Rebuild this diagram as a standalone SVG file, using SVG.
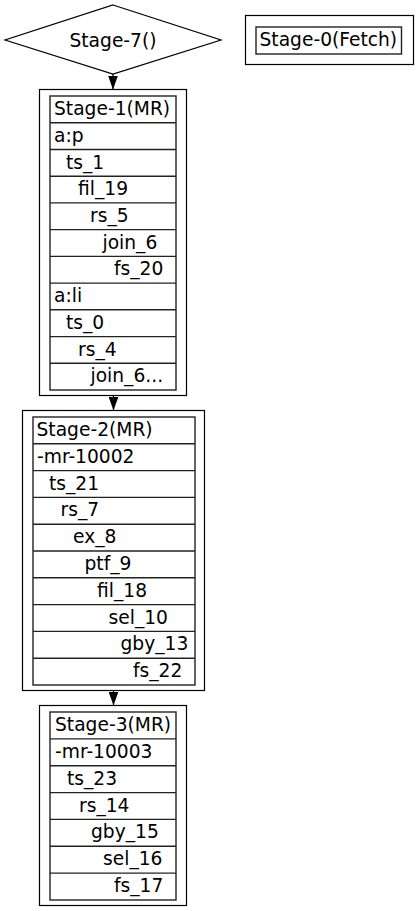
<svg xmlns="http://www.w3.org/2000/svg" width="419" height="911" viewBox="0 0 419 911">
<style>
text{font-family:"DejaVu Sans","Liberation Sans",sans-serif;font-size:18.67px;fill:#000}
.outer{fill:none;stroke:#000;stroke-width:1.2}
.inner{fill:none;stroke:#222;stroke-width:1.4}
.cell{stroke:#222;stroke-width:1.4}
.edge{stroke:#000;stroke-width:1.2;fill:none}
.mid{text-anchor:middle}
</style>
<defs>
<marker id="ah" viewBox="0 0 14 10" refX="14" refY="5" markerWidth="14" markerHeight="10" markerUnits="userSpaceOnUse" orient="auto">
<path d="M0,0 L14,5 L0,10 z" fill="#000"/>
</marker>
</defs>
<rect width="419" height="911" fill="#fff"/>
<g id="stage7">
<polygon points="113,5 221,40 113,74 5,40" fill="#fff" stroke="#000" stroke-width="1.2"/>
<text class="mid" x="113" y="46.5">Stage-7()</text>
</g>
<g id="stage0">
<rect class="outer" x="245.5" y="15.5" width="168" height="49"/>
<rect class="inner" x="256" y="27" width="145.5" height="27"/>
<text x="259.5" y="46">Stage-0(Fetch)</text>
</g>
<g id="stage1">
<rect class="outer" x="39.5" y="89.5" width="147" height="306"/>
<rect class="inner" x="50" y="96" width="126" height="294"/>
<g class="cell">
<line x1="50" x2="176" y1="122.7" y2="122.7"/>
<line x1="50" x2="176" y1="149.5" y2="149.5"/>
<line x1="50" x2="176" y1="176.2" y2="176.2"/>
<line x1="50" x2="176" y1="202.9" y2="202.9"/>
<line x1="50" x2="176" y1="229.6" y2="229.6"/>
<line x1="50" x2="176" y1="256.4" y2="256.4"/>
<line x1="50" x2="176" y1="283.1" y2="283.1"/>
<line x1="50" x2="176" y1="309.8" y2="309.8"/>
<line x1="50" x2="176" y1="336.6" y2="336.6"/>
<line x1="50" x2="176" y1="363.3" y2="363.3"/>
</g>
<text x="54" y="115">Stage-1(MR)</text>
<text x="54" y="141.7">a:p</text>
<text x="66" y="168.5">ts_1</text>
<text x="78" y="195.2">fil_19</text>
<text x="90" y="221.9">rs_5</text>
<text x="102.5" y="248.6">join_6</text>
<text x="114" y="275.4">fs_20</text>
<text x="54" y="302.1">a:li</text>
<text x="66" y="328.8">ts_0</text>
<text x="78" y="355.6">rs_4</text>
<text x="90.5" y="382.3">join_6...</text>
</g>
<g id="stage2">
<rect class="outer" x="22.5" y="410.5" width="182" height="280"/>
<rect class="inner" x="33" y="417" width="162" height="268"/>
<g class="cell">
<line x1="33" x2="195" y1="443.8" y2="443.8"/>
<line x1="33" x2="195" y1="470.6" y2="470.6"/>
<line x1="33" x2="195" y1="497.4" y2="497.4"/>
<line x1="33" x2="195" y1="524.2" y2="524.2"/>
<line x1="33" x2="195" y1="551" y2="551"/>
<line x1="33" x2="195" y1="577.8" y2="577.8"/>
<line x1="33" x2="195" y1="604.6" y2="604.6"/>
<line x1="33" x2="195" y1="631.4" y2="631.4"/>
<line x1="33" x2="195" y1="658.2" y2="658.2"/>
</g>
<text x="36.5" y="436">Stage-2(MR)</text>
<text x="37" y="462.8">-mr-10002</text>
<text x="49" y="489.6">ts_21</text>
<text x="60.5" y="516.4">rs_7</text>
<text x="73" y="543.2">ex_8</text>
<text x="84.5" y="570">ptf_9</text>
<text x="97" y="596.8">fil_18</text>
<text x="108.5" y="623.6">sel_10</text>
<text x="120.5" y="650.4">gby_13</text>
<text x="133" y="677.2">fs_22</text>
</g>
<g id="stage3">
<rect class="outer" x="39.5" y="705.5" width="147" height="200"/>
<rect class="inner" x="50" y="712" width="126" height="188"/>
<g class="cell">
<line x1="50" x2="176" y1="738.9" y2="738.9"/>
<line x1="50" x2="176" y1="765.7" y2="765.7"/>
<line x1="50" x2="176" y1="792.6" y2="792.6"/>
<line x1="50" x2="176" y1="819.4" y2="819.4"/>
<line x1="50" x2="176" y1="846.3" y2="846.3"/>
<line x1="50" x2="176" y1="873.1" y2="873.1"/>
</g>
<text x="55" y="731">Stage-3(MR)</text>
<text x="55" y="757.9">-mr-10003</text>
<text x="67" y="784.7">ts_23</text>
<text x="79" y="811.6">rs_14</text>
<text x="91" y="838.4">gby_15</text>
<text x="103" y="865.3">sel_16</text>
<text x="114" y="892.1">fs_17</text>
</g>
<g id="connectors">
<line class="edge" x1="113" y1="74" x2="113" y2="89.5" marker-end="url(#ah)"/>
<line class="edge" x1="113.5" y1="395.5" x2="113.5" y2="410.5" marker-end="url(#ah)"/>
<line class="edge" x1="113.5" y1="690.5" x2="113.5" y2="705.5" marker-end="url(#ah)"/>
</g>
</svg>
